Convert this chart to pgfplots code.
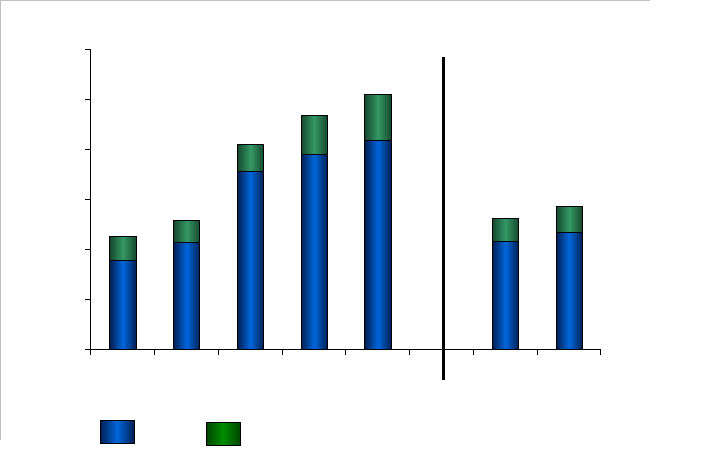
\documentclass[border=0pt]{standalone}
\usepackage{pgfplots}
\pgfplotsset{compat=1.18}
\definecolor{bluemid}{RGB}{0,102,220}
\definecolor{blueedge}{RGB}{0,32,84}
\definecolor{greenmid}{RGB}{52,152,102}
\definecolor{greenedge}{RGB}{22,72,46}
\definecolor{legmid}{RGB}{0,140,0}
\definecolor{legedge}{RGB}{0,70,0}
\definecolor{frame}{RGB}{192,192,192}
% each bar is its own plot so that the shading runs across every bar
\pgfplotsset{
  lower/.style={ybar, bar shift=0pt, draw=black, line width=0.6pt,
    left color=blueedge, right color=blueedge, middle color=bluemid},
  upper/.style={ybar, bar shift=0pt, draw=black, line width=0.6pt,
    left color=greenedge, right color=greenedge, middle color=greenmid},
}
\begin{document}
\begin{tikzpicture}
\useasboundingbox (0,0) rectangle (538.5pt,-343.5pt);
% faint frame of the original chart area
\draw[frame, line width=1pt] (0,-0.5pt) -- (487.5pt,-0.5pt);
\draw[frame, line width=1pt] (0.5pt,0) -- (0.5pt,-330pt);
\begin{axis}[
    at={(68.25pt,-261.75pt)}, anchor=south west,
    scale only axis, width=382.5pt, height=225pt,
    bar width=0.41,
    xmin=-0.5, xmax=7.5, ymin=0, ymax=6,
    xtick={-0.5,0.5,...,7.5}, ytick={0,1,...,6},
    xticklabels={}, yticklabels={},
    axis x line*=bottom, axis y line*=left,
    axis line style={-, line width=0.75pt},
    tick align=outside, major tick length=4.5pt,
    tick style={black, line width=0.75pt},
    clip=false,
    ]
% totals (green top part) first, then the blue part over them
\addplot[upper] coordinates {(0,2.26)};
\addplot[upper] coordinates {(1,2.58)};
\addplot[upper] coordinates {(2,4.10)};
\addplot[upper] coordinates {(3,4.68)};
\addplot[upper] coordinates {(4,5.10)};
\addplot[upper] coordinates {(6,2.62)};
\addplot[upper] coordinates {(7,2.86)};
\addplot[lower] coordinates {(0,1.78)};
\addplot[lower] coordinates {(1,2.14)};
\addplot[lower] coordinates {(2,3.56)};
\addplot[lower] coordinates {(3,3.90)};
\addplot[lower] coordinates {(4,4.18)};
\addplot[lower] coordinates {(6,2.16)};
\addplot[lower] coordinates {(7,2.34)};
\draw[black, line width=2.4pt] (axis cs:5.03,5.84) -- (axis cs:5.03,-0.62);
\end{axis}
% legend keys (no text in the reference)
\draw[black, line width=0.6pt, left color=blueedge, right color=blueedge, middle color=bluemid]
  (75pt,-315pt) rectangle (100.5pt,-332.25pt);
\draw[black, line width=0.6pt, left color=legedge, right color=legedge, middle color=legmid]
  (154.5pt,-316.5pt) rectangle (180pt,-333.75pt);
\end{tikzpicture}
\end{document}
